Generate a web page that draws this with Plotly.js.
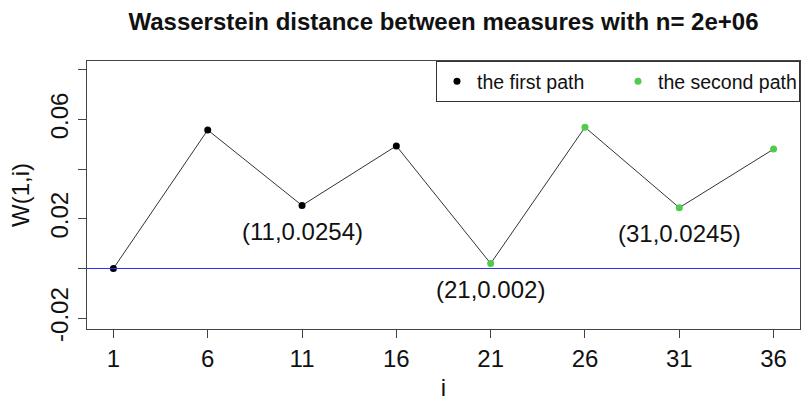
<!DOCTYPE html>
<html>
<head>
<meta charset="utf-8">
<script src="https://cdn.plot.ly/plotly-3.0.1.min.js"></script>
<style>
  html, body { margin: 0; padding: 0; background: #fff; }
  #chart { width: 803px; height: 401px; }
</style>
</head>
<body>
<div id="chart"></div>
<script>
// Wasserstein distance W(1,i) for the two sampled paths
const firstPathI = [1, 6, 11, 16];
const firstPathW = [0, 0.0558, 0.0254, 0.0494];
const secondPathI = [21, 26, 31, 36];
const secondPathW = [0.002, 0.0569, 0.0245, 0.0481];

// Points annotated with their coordinates
const labelI = [11, 21, 31];
const labelW = [0.0254, 0.002, 0.0245];

const xTickVals = [1, 6, 11, 16, 21, 26, 31, 36];
const yTickVals = [-0.02, 0, 0.02, 0.04, 0.06, 0.08];
const yTickText = ['-0.02', '', '0.02', '', '0.06', ''];

const FONT = 'Liberation Sans, Arial, sans-serif';
const GREEN = '#4dcc4d';

const allI = firstPathI.concat(secondPathI);
const allW = firstPathW.concat(secondPathW);

const traces = [
  {
    x: allI, y: allW, mode: 'lines', type: 'scatter',
    line: { color: '#333', width: 1 }, showlegend: false, hoverinfo: 'skip'
  },
  {
    x: firstPathI, y: firstPathW, mode: 'markers', type: 'scatter',
    name: 'the first path', marker: { color: '#000', size: 7 }
  },
  {
    x: secondPathI, y: secondPathW, mode: 'markers', type: 'scatter',
    name: 'the second path', marker: { color: GREEN, size: 7 }
  }
];

const annotations = labelI.map((xi, k) => ({
  x: xi, y: labelW[k], xref: 'x', yref: 'y',
  text: '(' + xi + ',' + labelW[k] + ')',
  showarrow: false, yanchor: 'middle', yshift: -26,
  font: { family: FONT, size: 24, color: '#111' }
}));

const layout = {
  width: 803, height: 401,
  margin: { l: 87, r: 3, t: 61, b: 72 },
  paper_bgcolor: '#fff', plot_bgcolor: '#fff',
  font: { family: FONT, color: '#111' },
  title: {
    text: '<b>Wasserstein distance between measures with n= 2e+06</b>',
    font: { family: FONT, size: 24, color: '#111' },
    x: 0.5, xref: 'paper', xanchor: 'center',
    y: 1 - 22 / 401, yref: 'container', yanchor: 'middle'
  },
  xaxis: {
    range: [-0.4, 37.4], tickvals: xTickVals,
    ticks: 'outside', ticklen: 8, tickcolor: '#444',
    showline: true, linecolor: '#444', linewidth: 1, mirror: true,
    showgrid: false, zeroline: false,
    tickfont: { family: FONT, size: 24, color: '#111' },
    title: { text: 'i', font: { family: FONT, size: 24, color: '#111' }, standoff: 16 }
  },
  yaxis: {
    range: [-0.02438, 0.0836], tickvals: yTickVals, ticktext: yTickText,
    tickangle: -90,
    ticks: 'outside', ticklen: 8, tickcolor: '#444',
    showline: true, linecolor: '#444', linewidth: 1, mirror: true,
    showgrid: false, zeroline: false,
    tickfont: { family: FONT, size: 24, color: '#111' },
    title: { text: 'W(1,i)', font: { family: FONT, size: 24, color: '#111' }, standoff: 10 }
  },
  shapes: [{
    type: 'line', xref: 'paper', x0: 0, x1: 1, yref: 'y', y0: 0, y1: 0,
    line: { color: '#3030ff', width: 1 }
  }],
  legend: {
    orientation: 'h', x: 1, y: 1, xanchor: 'right', yanchor: 'top',
    bordercolor: '#333', borderwidth: 1, bgcolor: '#fff',
    font: { family: FONT, size: 19.5, color: '#111' },
    itemwidth: 30, entrywidth: 136
  },
  annotations: annotations
};

Plotly.newPlot('chart', traces, layout, { displayModeBar: false, staticPlot: true });
</script>
</body>
</html>
